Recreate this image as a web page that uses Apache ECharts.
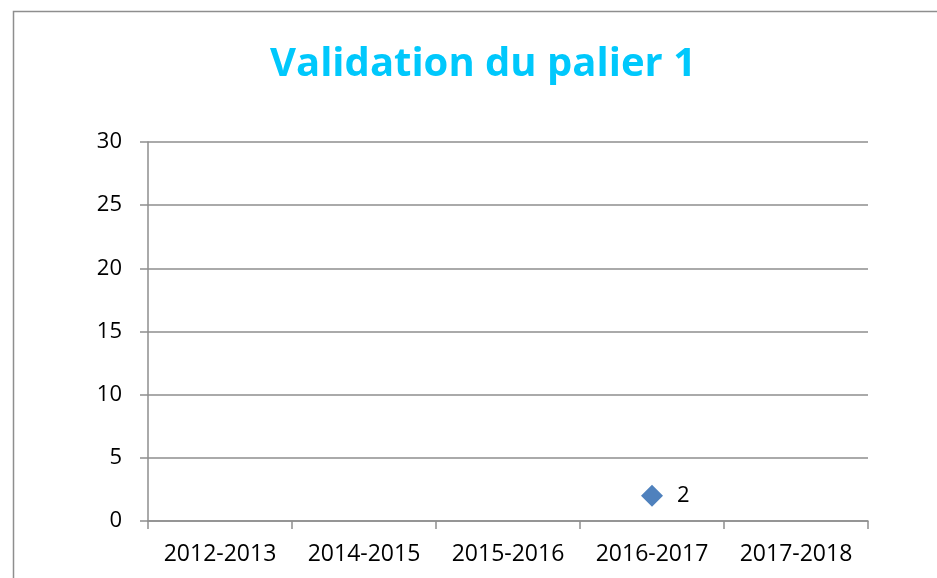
<!DOCTYPE html>
<html>
<head>
<meta charset="utf-8">
<title>Validation du palier 1</title>
<script src="https://cdn.jsdelivr.net/npm/echarts@6/dist/echarts.min.js"></script>
<style>
    html, body { margin: 0; padding: 0; background: #fff; }
    #chart { width: 937px; height: 578px; }
</style>
</head>
<body>
<div id="chart"></div>
<script>
var years = ['2012-2013', '2014-2015', '2015-2016', '2016-2017', '2017-2018'];
var palier1 = [null, null, null, 2, null];
var yTicks = { min: 0, max: 30, step: 5 };

var myChart = echarts.init(document.getElementById('chart'));
var gris = '#8e8e8e';

myChart.setOption({
    backgroundColor: '#fff',
    animation: false,
    //cadre du graphique
    graphic: [{
        type: 'rect',
        shape: { x: 13.5, y: 11.5, width: 1000, height: 1000 },
        style: { fill: 'none', stroke: gris, lineWidth: 1.5 }
    }],
    title: {
        text: 'Validation du palier 1',
        left: 478,
        top: 40,
        textAlign: 'center',
        textStyle: {
            color: '#00c8fc',
            fontFamily: 'Open Sans',
            fontWeight: 'bold',
            fontSize: 40
        }
    },
    grid: {
        left: 148,
        top: 142,
        width: 720,
        height: 379
    },
    xAxis: {
        type: 'category',
        data: years,
        boundaryGap: true,
        axisLine: { lineStyle: { color: gris, width: 1.5 } },
        axisTick: { show: true, interval: 0, length: 8, lineStyle: { color: gris, width: 1.5 } },
        axisLabel: {
            interval: 0,
            color: '#000',
            fontFamily: 'Open Sans',
            fontSize: 23,
            margin: 22
        },
        splitLine: { show: false }
    },
    yAxis: {
        type: 'value',
        min: yTicks.min,
        max: yTicks.max,
        interval: yTicks.step,
        axisLine: { show: true, lineStyle: { color: gris, width: 1.5 } },
        axisTick: { show: true, length: 8, lineStyle: { color: gris, width: 1.5 } },
        axisLabel: {
            color: '#000',
            fontFamily: 'Open Sans',
            fontSize: 22,
            margin: 26
        },
        splitLine: { lineStyle: { color: gris, width: 1.5 } }
    },
    series: [{
        name: 'Palier 1',
        type: 'scatter',
        data: palier1,
        symbol: 'diamond',
        symbolSize: 22,
        itemStyle: { color: '#4f81bd', opacity: 1 },
        label: {
            show: true,
            position: 'right',
            distance: 14,
            color: '#000',
            fontFamily: 'Open Sans',
            fontSize: 22
        }
    }]
});
</script>
</body>
</html>
